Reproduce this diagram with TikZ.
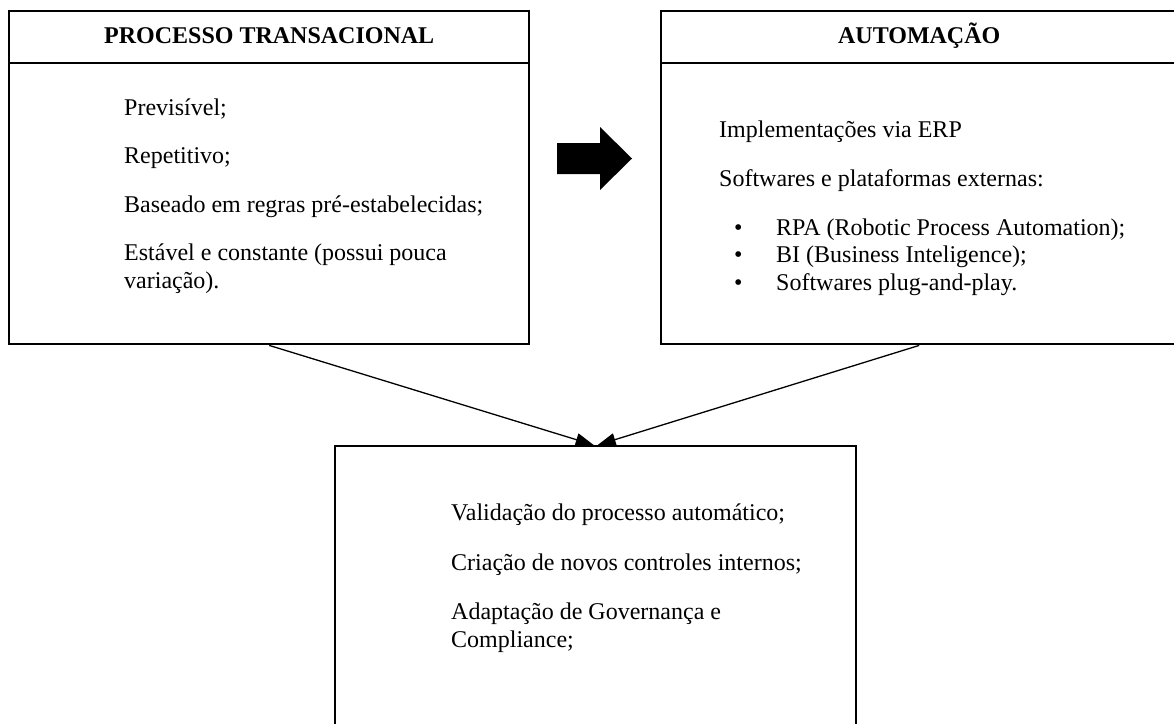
\documentclass[tikz,border=0pt]{standalone}
\usepackage{fontspec}
\setmainfont{Liberation Serif}
\usetikzlibrary{arrows.meta}
\begin{document}
\begin{tikzpicture}[x=1pt, y=-1pt,
  box/.style={draw, line width=2.4pt, inner sep=0pt, anchor=north west},
  txt/.style={anchor=base west, inner sep=0pt, font=\fontsize{24}{28}\selectfont},
  head/.style={box, font=\fontsize{24}{28}\selectfont\bfseries, text height=16pt, text depth=4pt},
  link/.style={line width=1.3pt, -{Triangle[length=18pt, width=13pt]}}
]
\useasboundingbox (0,0) rectangle (1174,723);
\clip (0,0) rectangle (1174,723);

% left block: transactional process
\node[head, minimum width=520pt, minimum height=52pt] (lhead) at (8,10) {PROCESSO TRANSACIONAL};
\node[box, minimum width=520pt, minimum height=281pt] (lbody) at (8,62) {};
\node[txt] (l1) at (124,115) {Previsível;};
\node[txt] (l2) at (124,163) {Repetitivo;};
\node[txt] (l3) at (124,212) {Baseado em regras pré-estabelecidas;};
\node[txt] (l4) at (124,260) {Estável e constante (possui pouca};
\node[txt] (l5) at (124,288) {variação).};

% right block: automation
\node[head, minimum width=516pt, minimum height=52pt] (rhead) at (660,10) {AUTOMAÇÃO};
\node[box, minimum width=516pt, minimum height=281pt] (rbody) at (660,62) {};
\node[txt] (r1) at (719,137) {Implementações via ERP};
\node[txt] (r2) at (719,186) {Softwares e plataformas externas:};
\node[txt] (rb1) at (734,235) {•};
\node[txt] (r3) at (776,235) {RPA (Robotic Process Automation);};
\node[txt] (rb2) at (734,262) {•};
\node[txt] (r4) at (776,262) {BI (Business Inteligence);};
\node[txt] (rb3) at (734,290) {•};
\node[txt] (r5) at (776,290) {Softwares plug-and-play.};

% block arrow between the two upper boxes
\fill (557,143) -- (600,143) -- (600,127) -- (632,158.5) -- (600,190) -- (600,174) -- (557,174) -- cycle;

% lower block: consequences
\node[box, minimum width=521pt, minimum height=330pt] (bbox) at (334,445) {};
\node[txt] (b1) at (451,520) {Validação do processo automático;};
\node[txt] (b2) at (451,570) {Criação de novos controles internos;};
\node[txt] (b3) at (451,619) {Adaptação de Governança e};
\node[txt] (b4) at (451,647) {Compliance;};

% connectors
\draw[link] (lbody.south) -- ([xshift=-2pt]bbox.north);
\draw[link] (rbody.south) -- ([xshift=2pt]bbox.north);
\end{tikzpicture}
\end{document}
